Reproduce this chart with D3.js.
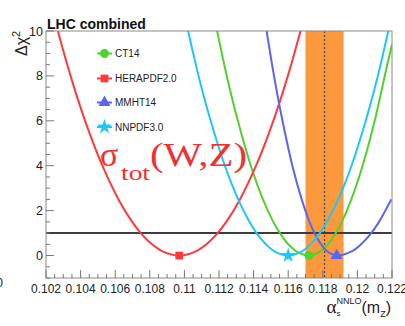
<!DOCTYPE html>
<html>
<head>
<meta charset="utf-8">
<script src="https://cdn.jsdelivr.net/npm/d3@7"></script>
<style>
  html, body { margin: 0; padding: 0; background: #ffffff; }
  svg { display: block; font-family: "Liberation Sans", Arial, Helvetica, sans-serif; }
</style>
</head>
<body>
<svg id="chart" width="405" height="326"></svg>
<script>
// Δχ² scans versus αs(mZ) from the combined LHC W,Z total cross sections
const pdfNames = ["CT14", "HERAPDF2.0", "MMHT14", "NNPDF3.0"];
const pdfColors = ["#52d12c", "#ff3a3a", "#5a64f7", "#1cc8f7"];
const pdfSymbols = ["circle", "square", "triangle", "star"];

// [alpha_s, Δχ²] points along each scan
const ct14Scan = [[0.11176,10.5],[0.11245,8],[0.11309,6],[0.11384,4],[0.11454,2.5],[0.11514,1.5],[0.11552,1],[0.11601,0.5],[0.11645,0.2],[0.1172,0],[0.11789,0.2],[0.11830,0.5],[0.11875,1],[0.11910,1.5],[0.11965,2.5],[0.1203,4],[0.1210,6],[0.12158,8],[0.1220,9.4]];
const heraScan = [[0.10251,10.5],[0.10342,8],[0.10426,6],[0.10526,4],[0.10619,2.5],[0.10698,1.5],[0.10748,1],[0.10813,0.5],[0.10871,0.2],[0.1097,0],[0.11069,0.2],[0.11127,0.5],[0.11192,1],[0.11242,1.5],[0.11321,2.5],[0.11414,4],[0.11514,6],[0.11598,8],[0.11689,10.5]];
const mmhtScan = [[0.11465,10.5],[0.11518,8],[0.11567,6],[0.11624,4],[0.11678,2.5],[0.11723,1.5],[0.11752,1],[0.1179,0.5],[0.11823,0.2],[0.1188,0],[0.11969,0.2],[0.12021,0.5],[0.1208,1],[0.12125,1.5],[0.12196,2.5]];
const nnpdfScan = [[0.11007,10.5],[0.11082,8],[0.11152,6],[0.11234,4],[0.11311,2.5],[0.11376,1.5],[0.11417,1],[0.11471,0.5],[0.11518,0.2],[0.1160,0],[0.11682,0.2],[0.11729,0.5],[0.11783,1],[0.11824,1.5],[0.11889,2.5],[0.11966,4],[0.12048,6],[0.12118,8],[0.12193,10.5]];
const scans = [ct14Scan, heraScan, mmhtScan, nnpdfScan];

// best-fit alpha_s of each scan (Δχ² = 0)
const bestFit = [0.1172, 0.1097, 0.1188, 0.1160];

// world-average band and central value
const worldAvg = 0.1181;
const worldAvgLo = 0.1170;
const worldAvgHi = 0.1192;
const unitLevel = 1;

const xTicks = [0.102, 0.104, 0.106, 0.108, 0.11, 0.112, 0.114, 0.116, 0.118, 0.12, 0.122];
const xTickLabels = ["0.102", "0.104", "0.106", "0.108", "0.11", "0.112", "0.114", "0.116", "0.118", "0.12", "0.122"];
const yTicks = [0, 2, 4, 6, 8, 10];
const yTickLabels = ["0", "2", "4", "6", "8", "10"];

const SERIF = "'Liberation Serif', 'Times New Roman', Times, serif";

const svg = d3.select("#chart");
const L = 46, R = 392, T = 31, B = 278;
const x = d3.scaleLinear().domain([0.102, 0.122]).range([L, R]);
const y = d3.scaleLinear().domain([-1, 10]).range([B, T]);

svg.append("defs").append("clipPath").attr("id", "plotClip")
  .append("rect").attr("x", L).attr("y", T).attr("width", R - L).attr("height", B - T);

const plot = svg.append("g").attr("clip-path", "url(#plotClip)");

// orange band
plot.append("rect")
  .attr("x", x(worldAvgLo)).attr("y", T)
  .attr("width", x(worldAvgHi) - x(worldAvgLo)).attr("height", B - T)
  .attr("fill", "#fc993c");

// central value
plot.append("line")
  .attr("x1", x(worldAvg)).attr("x2", x(worldAvg))
  .attr("y1", T).attr("y2", B)
  .attr("stroke", "#4a4a4a").attr("stroke-width", 1.3)
  .attr("stroke-dasharray", "2,2");

// Δχ² = 1 line
plot.append("line")
  .attr("x1", L).attr("x2", R)
  .attr("y1", y(unitLevel)).attr("y2", y(unitLevel))
  .attr("stroke", "#3c3c3c").attr("stroke-width", 2);

const line = d3.line()
  .x(d => x(d[0])).y(d => y(d[1]))
  .curve(d3.curveCatmullRom.alpha(0.5));

scans.forEach((s, i) => {
  plot.append("path").datum(s)
    .attr("d", line)
    .attr("fill", "none")
    .attr("stroke", pdfColors[i])
    .attr("stroke-width", 2);
});

const symbolTypes = {
  circle: d3.symbolCircle, square: d3.symbolSquare,
  triangle: d3.symbolTriangle, star: d3.symbolStar
};
const symbolSizes = { circle: 64, square: 60, triangle: 62, star: 70 };

function marker(g, kind, color, cx, cy) {
  g.append("path")
    .attr("d", d3.symbol().type(symbolTypes[kind]).size(symbolSizes[kind])())
    .attr("transform", `translate(${cx},${cy})`)
    .attr("fill", color);
}

bestFit.forEach((a, i) => marker(svg, pdfSymbols[i], pdfColors[i], x(a), y(0)));

// frame
svg.append("rect")
  .attr("x", L).attr("y", T).attr("width", R - L).attr("height", B - T)
  .attr("fill", "none").attr("stroke", "#8a8a8a").attr("stroke-width", 1);

// y ticks
const yMinor = d3.range(-1, 10.01, 0.5);
svg.append("g").selectAll("line").data(yMinor).join("line")
  .attr("x1", L).attr("x2", d => L + (yTicks.includes(d) ? 8 : 4))
  .attr("y1", d => y(d)).attr("y2", d => y(d))
  .attr("stroke", "#777").attr("stroke-width", 1);
svg.append("g").selectAll("text").data(yTicks).join("text")
  .attr("x", L - 3).attr("y", d => y(d) + 4.5)
  .attr("text-anchor", "end").attr("font-size", 12.5).attr("fill", "#222")
  .text((d, i) => yTickLabels[i]);

// x ticks
const xMinor = d3.range(0, 41).map(k => 0.102 + k * 0.0005);
svg.append("g").selectAll("line").data(xMinor).join("line")
  .attr("x1", d => x(d)).attr("x2", d => x(d))
  .attr("y1", B).attr("y2", (d, k) => B - (k % 4 === 0 ? 8 : 4))
  .attr("stroke", "#777").attr("stroke-width", 1);
svg.append("g").selectAll("text").data(xTicks).join("text")
  .attr("x", d => x(d)).attr("y", 293)
  .attr("text-anchor", "middle").attr("font-size", 12).attr("fill", "#222")
  .text((d, i) => xTickLabels[i]);

// title
svg.append("text").attr("x", 47).attr("y", 28.5)
  .attr("font-size", 14).attr("font-weight", "bold").attr("fill", "#111")
  .text("LHC combined");

// y axis title
const yt = svg.append("text")
  .attr("transform", "translate(27,56) rotate(-90)")
  .attr("font-size", 16).attr("fill", "#222");
yt.append("tspan").text("Δχ");
yt.append("tspan").attr("font-size", 11).attr("dy", -7).text("2");

// x axis title
const xt = svg.append("text")
  .attr("x", 391).attr("y", 313).attr("text-anchor", "end")
  .attr("font-size", 16).attr("fill", "#222");
xt.append("tspan").style("font-family", SERIF).attr("font-size", 19).text("α");
xt.append("tspan").attr("font-size", 8).attr("dy", 3).text("s");
xt.append("tspan").attr("font-size", 9).attr("dy", -12).attr("dx", -4).text("NNLO");
xt.append("tspan").attr("dy", 9).text("(m");
xt.append("tspan").attr("font-size", 9).attr("dy", 4).text("Z");
xt.append("tspan").attr("dy", -4).text(")");

// legend
const legendY = [53.5, 78.5, 102.5, 127];
pdfNames.forEach((name, i) => {
  const g = svg.append("g");
  g.append("line").attr("x1", 97).attr("x2", 112)
    .attr("y1", legendY[i]).attr("y2", legendY[i])
    .attr("stroke", pdfColors[i]).attr("stroke-width", 2);
  marker(g, pdfSymbols[i], pdfColors[i], 104.5, legendY[i]);
  g.append("text").attr("x", 115).attr("y", legendY[i] + 3.8)
    .attr("font-size", 10).attr("fill", "#222").text(name);
});

// observable label
const lab = svg.append("g").attr("fill", "#f2302f").style("font-family", SERIF);
lab.append("text").attr("x", 100).attr("y", 166).attr("font-size", 34).text("σ");
lab.append("text").attr("x", 121).attr("y", 180).attr("font-size", 21)
  .attr("textLength", 29).attr("lengthAdjust", "spacingAndGlyphs").text("tot");
lab.append("text").attr("x", 150).attr("y", 166).attr("font-size", 33)
  .attr("textLength", 97).attr("lengthAdjust", "spacingAndGlyphs").text("(W,Z)");

// neighbouring panel's axis label at the left edge
svg.append("text").attr("x", 3).attr("y", 287).attr("text-anchor", "end")
  .attr("font-size", 12).attr("fill", "#222").text("0");
</script>
</body>
</html>
